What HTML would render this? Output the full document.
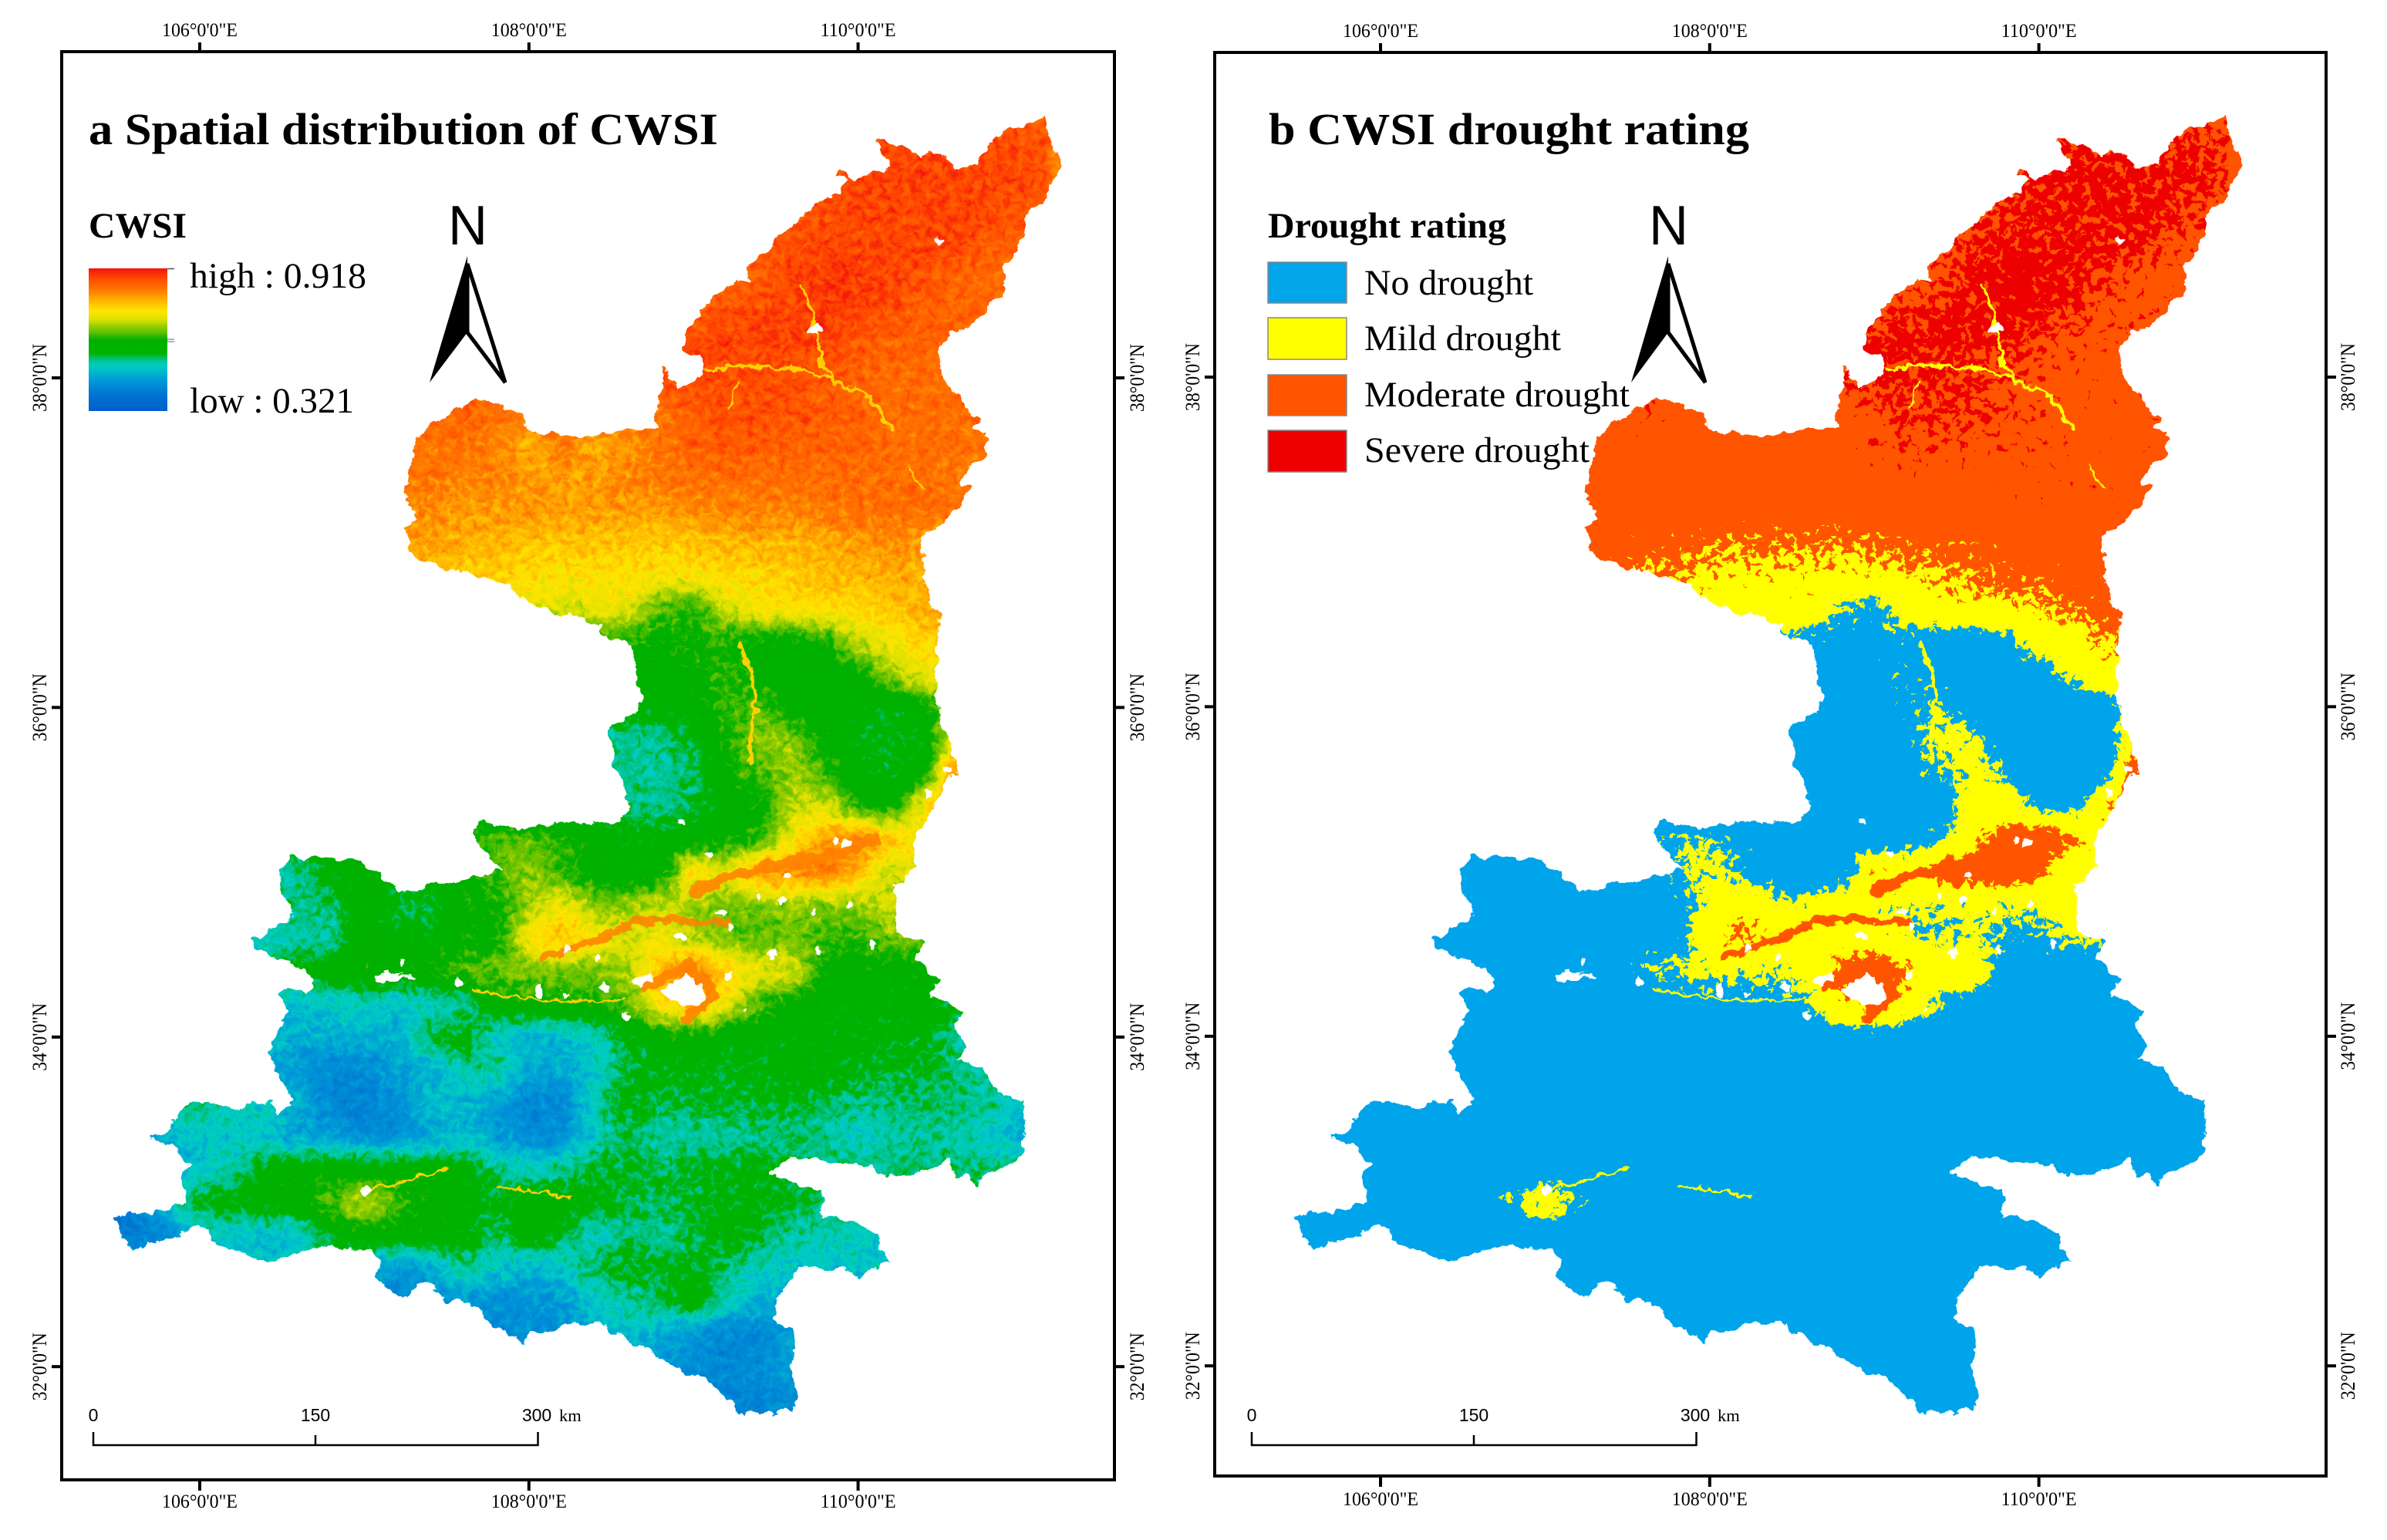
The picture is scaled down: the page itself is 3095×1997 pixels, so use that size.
<!DOCTYPE html>
<html lang="en">
<head>
<meta charset="utf-8">
<title>CWSI maps</title>
<style>
html,body{margin:0;padding:0;background:#fff;}
svg{display:block;}
text{font-family:"Liberation Serif",serif;fill:#000;}
.sans{font-family:"Liberation Sans",sans-serif;}
.tick{font-size:25px;}
.ticklat{font-size:26px;}
.ttl{font-size:58px;font-weight:bold;}
.lgt{font-size:47px;font-weight:bold;}
.lgl{font-size:47px;}
.feat{fill:none;stroke-linejoin:round;stroke-linecap:round;}
</style>
</head>
<body>
<svg id="figure" xmlns="http://www.w3.org/2000/svg" width="3095" height="1997" viewBox="0 0 3095 1997">
<defs>
<polygon id="shaanxi-outline" points="1355,153 1361,182 1375,213 1355,259 1327,279 1327,308 1301,348 1301,383 1281,397 1252,426 1235,428 1218,451 1220,492 1243,515 1258,538 1272,543 1263,555 1281,566 1275,589 1252,612 1246,627 1261,632 1240,658 1212,687 1192,701 1200,721 1195,738 1200,753 1206,764 1203,776 1218,796 1215,848 1212,893 1220,934 1232,962 1240,997 1224,1018 1214,1045 1189,1083 1184,1125 1163,1148 1161,1175 1161,1208 1197,1225 1189,1243 1217,1271 1204,1292 1248,1310 1237,1335 1255,1358 1240,1371 1278,1391 1288,1412 1327,1432 1330,1460 1327,1488 1322,1503 1283,1524 1263,1537 1250,1524 1237,1524 1230,1503 1197,1519 1161,1524 1130,1514 1094,1509 1033,1501 1013,1509 995,1524 1028,1534 1066,1542 1064,1580 1082,1577 1138,1600 1145,1621 1156,1639 1130,1644 1112,1657 1094,1644 1033,1646 1028,1659 1008,1687 1005,1713 1026,1725 1031,1748 1026,1774 1033,1815 1026,1830 957,1834 952,1817 939,1810 911,1789 875,1774 844,1753 793,1728 788,1718 737,1715 722,1723 686,1728 681,1741 651,1725 638,1718 612,1687 579,1690 564,1667 554,1659 528,1685 498,1667 487,1654 490,1634 482,1621 426,1616 390,1621 344,1639 314,1623 273,1611 273,1595 253,1590 217,1608 171,1621 158,1605 148,1580 161,1577 217,1570 240,1557 237,1519 250,1514 222,1488 197,1475 222,1468 222,1452 248,1427 283,1432 296,1440 350,1427 360,1447 380,1432 360,1396 357,1381 347,1366 360,1340 375,1310 362,1289 375,1282 400,1289 408,1269 375,1248 329,1230 327,1218 355,1202 380,1185 360,1146 362,1126 375,1113 411,1111 467,1116 492,1131 518,1157 579,1144 602,1139 651,1131 630,1105 610,1079 625,1066 673,1075 724,1066 765,1068 806,1066 816,1049 811,1014 796,995 791,945 811,928 827,926 832,895 821,865 821,838 801,827 776,822 781,813 770,807 741,796 718,796 672,776 661,759 609,744 586,738 534,721 526,681 543,675 529,652 526,629 534,601 537,575 552,558 575,540 609,526 618,515 672,535 689,561 730,563 753,569 798,558 850,558 853,509 862,492 856,480 867,483 882,506 908,486 910,469 885,451 890,434 913,397 942,371 971,362 968,345 1005,314 1040,282 1065,259 1086,251 1100,233 1083,225 1091,219 1106,232 1149,219 1157,213 1137,187 1140,181 1166,187 1197,205 1203,196 1226,202 1240,219 1263,216 1289,179 1321,164"/>
<clipPath id="map-clip"><use href="#shaanxi-outline"/></clipPath>
<filter id="edge-rough" filterUnits="userSpaceOnUse" x="100" y="110" width="1320" height="1790" color-interpolation-filters="sRGB">
  <feTurbulence type="fractalNoise" baseFrequency="0.06" numOctaves="4" seed="5" result="n"/>
  <feColorMatrix in="n" type="matrix" values="1 0 0 0 0  0 1 0 0 0  0 0 1 0 0  0 0 0 0 1" result="opaque"/>
  <feDisplacementMap in="SourceGraphic" in2="opaque" scale="16" xChannelSelector="R" yChannelSelector="G"/>
</filter>
<g id="thin-rivers" class="feat">
<path stroke-width="4" d="M913,480 L959,477 L999,474 L1051,483 L1080,497 L1117,506 L1137,526 L1157,561"/>
<path stroke-width="4" d="M1037,371 L1051,400 L1063,440 L1063,463 L1077,492"/>
<path stroke-width="5" d="M959,836 L976,876 L979,922 L974,951 L971,991"/>
<path stroke-width="3" d="M477,1544 L518,1534 L579,1516"/>
<path stroke-width="3" d="M959,497 L942,532"/>
<path stroke-width="3" d="M1177,606 L1197,635"/>
<path stroke-width="3" d="M610,1284 L732,1299 L809,1297"/>
<path stroke-width="3" d="M645,1539 L700,1546 L742,1554"/>
</g>
<g id="orange-bands" class="feat">
<path stroke-width="15" d="M898,1156 L939,1140 L985,1125 L1036,1117 L1077,1110 L1138,1087"/>
<path stroke-width="9" d="M704,1240 L781,1217 L816,1198 L857,1194 L944,1196"/>
<path stroke-width="14" d="M836,1282 L893,1250 L925,1290 L890,1322"/>
</g>
<g id="white-holes" fill="#fff">
<polygon points="857,1284 880,1270 893,1264 910,1280 912,1295 892,1306 870,1300"/>
<polygon points="822,1272 842,1262 846,1272 828,1282"/>
<circle cx="1056" cy="428" r="7"/>
<circle cx="1216" cy="312" r="5"/>
<circle cx="475" cy="1542" r="6"/>
<rect x="486" y="1262" width="30" height="8"/>
<rect x="512" y="1266" width="30" height="4"/>
<circle cx="1020" cy="1138" r="5"/>
<circle cx="1002" cy="1236" r="7"/>
<circle cx="1099" cy="1173" r="5"/>
<circle cx="1015" cy="1167" r="5"/>
<circle cx="985" cy="1163" r="4"/>
<circle cx="1056" cy="1186" r="4"/>
<circle cx="1082" cy="1091" r="5"/>
<circle cx="1097" cy="1092" r="5"/>
<circle cx="946" cy="1202" r="5"/>
<circle cx="883" cy="1213" r="5"/>
<circle cx="934" cy="1182" r="4"/>
<circle cx="1061" cy="1234" r="4"/>
<circle cx="1130" cy="1226" r="5"/>
<circle cx="735" cy="1230" r="5"/>
<circle cx="775" cy="1242" r="4"/>
<circle cx="944" cy="1263" r="5"/>
<circle cx="783" cy="1280" r="5"/>
<circle cx="699" cy="1286" r="6"/>
<circle cx="732" cy="1288" r="4"/>
<circle cx="597" cy="1274" r="5"/>
<circle cx="530" cy="1267" r="4"/>
<circle cx="523" cy="1249" r="4"/>
<circle cx="921" cy="1110" r="5"/>
<circle cx="883" cy="1065" r="4"/>
<circle cx="1204" cy="1029" r="5"/>
<circle cx="1230" cy="999" r="4"/>
<circle cx="814" cy="1320" r="4"/>
<circle cx="964" cy="1311" r="3"/>
</g>
</defs>

<!-- Panel a -->
<g id="panel-a">
  <rect x="80" y="67" width="1365" height="1852" fill="none" stroke="#000" stroke-width="4"/>
  <g id="axes-a"></g>
  <g filter="url(#edge-rough)">
    <g clip-path="url(#map-clip)">
      <g id="cells-a"></g>
      <use href="#thin-rivers" stroke="#ffd000"/>
      <use href="#orange-bands" stroke="#ff8000" opacity="0.85"/>
      <use href="#white-holes"/>
    </g>
  </g>
  <text class="ttl" x="115" y="187" textLength="816" lengthAdjust="spacingAndGlyphs">a Spatial distribution of CWSI</text>
  <text class="lgt" x="115" y="308" textLength="127" lengthAdjust="spacingAndGlyphs">CWSI</text>
  <rect id="legend-ramp" x="115" y="348" width="102" height="185" fill="url(#ramp-gradient)"/>
  <line x1="217" y1="348.500" x2="226" y2="348.500" stroke="#555" stroke-width="1.500"/>
  <line x1="217" y1="440" x2="226" y2="440" stroke="#999" stroke-width="1.500"/>
  <line x1="217" y1="443" x2="226" y2="443" stroke="#999" stroke-width="1.500"/>
  <text class="lgl" x="246" y="373" textLength="229" lengthAdjust="spacingAndGlyphs">high : 0.918</text>
  <text class="lgl" x="246" y="535" textLength="213" lengthAdjust="spacingAndGlyphs">low : 0.321</text>
  <g>
    <text class="sans" x="581" y="317" font-size="72" textLength="51" lengthAdjust="spacingAndGlyphs">N</text>
    <polygon points="606,332 557,496 606,431" fill="#000"/>
    <polygon points="606,342 606,431 655,496" fill="#fff" stroke="#000" stroke-width="5" stroke-linejoin="miter"/>
  </g>
  <g>
    <path d="M121,1857 V1874 H697.500 V1857 M409,1874 V1861" fill="none" stroke="#000" stroke-width="2.500"/>
    <text class="sans" x="121" y="1843" font-size="23" text-anchor="middle">0</text>
    <text class="sans" x="409" y="1843" font-size="23" text-anchor="middle">150</text>
    <text class="sans" x="696" y="1843" font-size="23" text-anchor="middle">300</text>
    <text x="725" y="1843" font-size="22.500">km</text>
  </g>
</g>

<!-- Panel b -->
<g id="panel-b">
  <rect x="1575" y="68" width="1441" height="1846" fill="none" stroke="#000" stroke-width="4"/>
  <g id="axes-b"></g>
  <g transform="translate(1531,-1)">
    <g filter="url(#edge-rough)">
      <g clip-path="url(#map-clip)">
        <g id="cells-b"></g>
        <use href="#thin-rivers" stroke="#ffff00"/>
        <use href="#orange-bands" stroke="#ff5500"/>
        <use href="#white-holes"/>
      </g>
    </g>
  </g>
  <text class="ttl" x="1645" y="187" textLength="623" lengthAdjust="spacingAndGlyphs">b CWSI drought rating</text>
  <text class="lgt" x="1644" y="308" textLength="309" lengthAdjust="spacingAndGlyphs">Drought rating</text>
  <g>
    <rect x="1644" y="340" width="102" height="53" fill="#00a5ea" stroke="#888" stroke-width="1.500"/>
    <text class="lgl" x="1769" y="382" textLength="219" lengthAdjust="spacingAndGlyphs">No drought</text>
  </g>
  <g>
    <rect x="1644" y="412" width="102" height="54" fill="#ffff00" stroke="#888" stroke-width="1.500"/>
    <text class="lgl" x="1769" y="454" textLength="255" lengthAdjust="spacingAndGlyphs">Mild drought</text>
  </g>
  <g>
    <rect x="1644" y="486" width="102" height="53" fill="#ff5500" stroke="#888" stroke-width="1.500"/>
    <text class="lgl" x="1769" y="527" textLength="344" lengthAdjust="spacingAndGlyphs">Moderate drought</text>
  </g>
  <g>
    <rect x="1644" y="558" width="102" height="54" fill="#ee0000" stroke="#888" stroke-width="1.500"/>
    <text class="lgl" x="1769" y="599" textLength="292" lengthAdjust="spacingAndGlyphs">Severe drought</text>
  </g>
  <g>
    <text class="sans" x="2138" y="317" font-size="72" textLength="51" lengthAdjust="spacingAndGlyphs">N</text>
    <polygon points="2163,332 2115,496 2163,431" fill="#000"/>
    <polygon points="2163,342 2163,431 2211,496" fill="#fff" stroke="#000" stroke-width="5" stroke-linejoin="miter"/>
  </g>
  <g>
    <path d="M1623,1857 V1874 H2199.500 V1857 M1911,1874 V1861" fill="none" stroke="#000" stroke-width="2.500"/>
    <text class="sans" x="1623" y="1843" font-size="23" text-anchor="middle">0</text>
    <text class="sans" x="1911" y="1843" font-size="23" text-anchor="middle">150</text>
    <text class="sans" x="2198" y="1843" font-size="23" text-anchor="middle">300</text>
    <text x="2227" y="1843" font-size="22.500">km</text>
  </g>
</g>
</svg>

<script>
// ---- axis data ----
var lonTicks = [106, 108, 110];
var lonTickLabels = ['106°0\'0"E', '108°0\'0"E', '110°0\'0"E'];
var latTicks = [38, 36, 34, 32];
var latTickLabels = ['38°0\'0"N', '36°0\'0"N', '34°0\'0"N', '32°0\'0"N'];

// ---- raster grid: CWSI x100 at lon/lat nodes ----
var gridLonStart = 105.4;
var gridLatStart = 39.6;
var gridStep = 0.2;
var cwsiRows = [
[86,86,86,86,86,86,86,86,86,86,86,86,86,86,86,86,86,86,86,86,86,86,86,86,86,86,86,86,86,86],
[87,87,87,87,87,87,87,87,87,87,87,87,87,87,87,87,87,87,87,87,87,87,87,88,88,88,88,88,87,86],
[86,86,86,86,86,86,86,86,86,86,86,86,86,86,86,86,86,86,86,86,86,86,87,88,88,88,88,88,88,86],
[85,85,85,85,85,85,85,85,85,85,85,85,85,85,85,85,85,85,85,85,85,86,87,88,88,88,88,88,86,85],
[85,85,85,85,85,85,85,85,85,85,85,85,85,85,85,85,85,85,85,85,86,87,88,88,88,88,88,86,85,85],
[84,84,84,84,84,84,84,84,84,84,84,84,84,84,84,84,84,84,84,84,86,88,89,89,88,87,85,84,84,84],
[86,86,86,86,86,86,86,86,86,86,86,86,86,86,86,86,86,86,86,87,88,88,89,88,87,85,85,85,85,85],
[88,88,88,88,88,88,88,88,88,88,88,88,88,88,88,88,88,88,88,88,88,88,88,86,85,85,85,85,85,85],
[86,86,86,86,86,86,86,86,86,86,86,86,86,86,86,86,86,87,88,87,87,87,86,85,84,84,84,84,84,84],
[85,85,85,85,85,85,85,85,85,85,85,85,84,84,84,84,84,84,86,87,87,87,86,85,84,84,84,84,84,84],
[83,83,83,83,83,83,83,83,83,83,83,84,82,78,83,79,80,83,85,86,86,85,85,85,84,84,84,83,83,83],
[83,83,83,83,83,83,83,83,83,83,83,82,82,80,80,80,82,83,84,84,84,84,84,84,84,84,83,83,83,83],
[81,81,81,81,81,81,81,81,81,81,81,80,80,81,80,80,80,80,81,82,82,82,83,84,84,84,84,84,84,84],
[80,80,80,80,80,80,80,80,80,80,80,79,78,77,77,77,77,76,77,78,79,78,79,80,81,80,80,80,80,80],
[76,76,76,76,76,76,76,76,76,76,76,76,76,75,74,74,74,74,74,75,75,76,78,78,79,79,79,79,79,79],
[72,72,72,72,72,72,72,72,72,72,72,72,72,72,70,72,72,64,62,70,74,74,75,75,77,79,79,79,79,79],
[62,62,62,62,62,62,62,62,62,62,62,62,62,62,62,62,62,61,62,62,60,60,62,70,72,76,76,76,76,76],
[59,59,59,59,59,59,59,59,59,59,59,59,59,59,59,59,59,59,60,64,60,59,58,60,68,72,74,74,74,74],
[58,58,58,58,58,58,58,58,58,58,58,58,58,58,58,58,58,58,59,63,65,60,59,58,57,59,72,74,74,74],
[53,53,53,53,53,53,53,53,53,53,53,53,53,53,53,53,53,53,56,62,67,67,60,57,57,57,74,74,74,74],
[53,53,53,53,53,53,53,53,53,53,53,53,53,53,53,53,53,53,54,61,64,68,64,58,56,60,84,84,84,84],
[54,54,54,54,54,54,54,54,54,54,54,54,54,54,54,54,54,53,55,60,60,69,71,62,60,74,85,85,85,85],
[60,60,60,60,60,60,60,60,60,60,60,62,65,65,63,60,58,58,59,60,62,73,80,83,78,72,72,72,72,72],
[52,52,52,52,52,52,52,58,60,60,60,60,64,67,63,60,58,59,77,72,82,82,84,78,68,74,74,74,74,74],
[54,54,54,54,54,54,54,54,60,55,55,61,61,68,73,66,68,70,68,65,66,67,66,67,70,70,70,70,70,70],
[50,50,50,50,50,50,52,52,60,59,58,60,60,74,78,75,70,72,68,66,64,66,64,63,66,66,66,66,66,66],
[58,58,58,58,58,58,58,60,62,60,62,65,66,66,66,66,68,78,84,76,72,72,60,60,59,60,60,60,60,60],
[49,49,49,49,49,49,49,50,51,50,50,52,60,61,62,62,65,74,80,72,64,60,58,58,58,59,57,57,57,57],
[50,50,50,50,50,50,47,48,48,47,56,58,50,48,48,51,56,60,60,58,58,58,58,58,57,58,52,52,52,52],
[46,46,46,46,46,46,45,42,43,46,47,52,54,47,47,50,56,57,57,56,57,58,58,57,56,56,54,52,52,52],
[54,54,54,55,52,51,48,42,41,44,50,48,46,42,42,52,58,55,56,56,56,56,55,53,54,54,54,53,50,50],
[44,44,48,50,50,50,45,46,42,43,46,49,45,43,43,51,55,52,52,52,53,54,53,50,52,53,52,50,47,47],
[46,46,46,50,52,58,60,60,60,60,60,59,54,51,53,56,56,55,56,57,58,55,54,54,54,54,54,54,54,54],
[40,42,52,57,58,60,60,65,70,64,60,59,56,60,59,58,55,55,56,57,57,56,54,54,54,54,54,54,54,54],
[40,40,41,50,50,48,50,58,60,60,60,58,54,60,56,50,54,52,55,58,56,52,52,51,50,50,50,50,50,50],
[50,50,50,50,50,50,50,50,50,44,47,54,50,48,50,56,57,56,57,54,51,50,50,50,50,50,50,50,50,50],
[42,42,42,42,42,42,42,42,42,42,43,45,44,44,45,50,53,55,60,52,48,48,48,48,48,48,48,48,48,48],
[43,43,43,43,43,43,43,43,43,43,43,43,43,44,44,48,50,47,44,42,42,46,46,46,46,46,46,46,46,46],
[45,45,45,45,45,45,45,45,45,45,45,45,45,45,45,45,45,45,44,42,44,46,46,46,46,46,46,46,46,46],
[42,42,42,42,42,42,42,42,42,42,42,42,42,42,42,42,42,42,42,42,42,43,43,43,43,43,43,43,43,43],
[42,42,42,42,42,42,42,42,42,42,42,42,42,42,42,42,42,42,42,42,42,42,42,42,42,42,42,42,42,42]
];

// ---- colour scale: CWSI x100 -> colour ----
var rampValues = [92, 88, 86, 82, 80, 77, 74, 70, 68, 65, 62, 56, 54, 51, 45, 38, 32];
var rampColors = ['#f01010','#ff4400','#ff5a00','#ff8000','#ff9f00','#ffc400','#ffe600','#d8e000','#a0d000','#60c000','#00b000','#00b400','#00c080','#00cfc4','#0098d8','#0070d0','#0060cc'];
var legendHigh = 91.8;
var legendLow = 32.1;

// ---- rating classes ----
var ratingBreaks = [65, 76, 87];
var ratingNames = ['no-drought', 'mild-drought', 'moderate-drought', 'severe-drought'];
var ratingColors = ['#00a5ea', '#ffff00', '#ff5500', '#ee0000'];

var SVGNS = 'http://www.w3.org/2000/svg';
var fig = document.getElementById('figure');
var defs = fig.querySelector('defs');

// axis functions (panel a geography; panel b is the same map shifted)
var panels = {
  a: {x106: 259, y38: 490, left: 80, right: 1445, top: 67, bottom: 1919, leftBase: 60, rightBase: 1483, bottomLabel: 1955},
  b: {x106: 1790, y38: 489, left: 1575, right: 3016, top: 68, bottom: 1914, leftBase: 1555, rightBase: 3053, bottomLabel: 1952}
};
var SCALE_X = 213.4, SCALE_Y = 213.7;
function lonX(p, lon) { return p.x106 + (lon - 106) * SCALE_X; }
function latY(p, lat) { return p.y38 + (38 - lat) * SCALE_Y; }

function hex(c) { return [parseInt(c.substr(1,2),16), parseInt(c.substr(3,2),16), parseInt(c.substr(5,2),16)]; }
function rampAt(v) {
  if (v >= rampValues[0]) return hex(rampColors[0]);
  for (var i = 1; i < rampValues.length; i++) {
    if (v >= rampValues[i]) {
      var t = (v - rampValues[i]) / (rampValues[i-1] - rampValues[i]);
      var a = hex(rampColors[i]), b = hex(rampColors[i-1]);
      return [a[0]+(b[0]-a[0])*t, a[1]+(b[1]-a[1])*t, a[2]+(b[2]-a[2])*t];
    }
  }
  return hex(rampColors[rampColors.length-1]);
}
function ratingIndex(v) {
  var k = 0;
  for (var i = 0; i < ratingBreaks.length; i++) { if (v >= ratingBreaks[i]) k = i + 1; }
  return k;
}

function svgEl(tag, attrs, parent) {
  var el = document.createElementNS(SVGNS, tag);
  for (var key in attrs) { el.setAttribute(key, attrs[key]); }
  if (parent) parent.appendChild(el);
  return el;
}

// Smooth the grid, add a fine terrain texture, then apply the colour table.
function makeFilter(id, type, channelFn, n) {
  var f = svgEl('filter', {id: id, filterUnits: 'userSpaceOnUse', x: 100, y: 110, width: 1320, height: 1790, 'color-interpolation-filters': 'sRGB'}, defs);
  svgEl('feGaussianBlur', {'in': 'SourceGraphic', stdDeviation: '15', result: 'smooth'}, f);
  svgEl('feTurbulence', {type: 'fractalNoise', baseFrequency: '0.1', numOctaves: '3', seed: '11', result: 'noise'}, f);
  svgEl('feColorMatrix', {'in': 'noise', type: 'matrix', values: '1 0 0 0 0  1 0 0 0 0  1 0 0 0 0  0 0 0 0 1', result: 'grain'}, f);
  svgEl('feComposite', {'in': 'smooth', in2: 'grain', operator: 'arithmetic', k1: '0', k2: '1', k3: '0.1', k4: '-0.05', result: 'textured'}, f);
  var ct = svgEl('feComponentTransfer', {'in': 'textured'}, f);
  var names = ['feFuncR', 'feFuncG', 'feFuncB'];
  for (var c = 0; c < 3; c++) {
    var vals = [];
    for (var k = 0; k < n; k++) { vals.push((channelFn(k)[c] / 255).toFixed(3)); }
    svgEl(names[c], {type: type, tableValues: vals.join(' ')}, ct);
  }
  svgEl('feFuncA', {type: 'linear', slope: '30'}, ct);
}
makeFilter('ramp-filter', 'table', function (k) { return rampAt(k); }, 101);
makeFilter('rating-filter', 'discrete', function (k) { return hex(ratingColors[ratingIndex(k)]); }, 100);

// legend gradient from the same colour scale
var grad = svgEl('linearGradient', {id: 'ramp-gradient', x1: 0, y1: 0, x2: 0, y2: 1}, defs);
for (var s = 0; s <= 40; s++) {
  var v = legendHigh - (legendHigh - legendLow) * s / 40;
  var col = rampAt(v);
  svgEl('stop', {offset: (s / 40).toFixed(3), 'stop-color': 'rgb(' + Math.round(col[0]) + ',' + Math.round(col[1]) + ',' + Math.round(col[2]) + ')'}, grad);
}

// raster cells from cwsiRows
function drawCells(groupId, filterId, cellName) {
  var g = document.getElementById(groupId);
  g.setAttribute('filter', 'url(#' + filterId + ')');
  var p = panels.a;
  var half = gridStep * SCALE_X / 2;
  var halfY = gridStep * SCALE_Y / 2;
  for (var j = 0; j < cwsiRows.length; j++) {
    for (var i = 0; i < cwsiRows[j].length; i++) {
      var val = cwsiRows[j][i];
      var gray = Math.round(val * 2.55);
      var r = document.createElementNS(SVGNS, 'rect');
      r.setAttribute('x', (lonX(p, gridLonStart + i * gridStep) - half).toFixed(1));
      r.setAttribute('y', (latY(p, gridLatStart - j * gridStep) - halfY).toFixed(1));
      r.setAttribute('width', (2 * half + 1).toFixed(1));
      r.setAttribute('height', (2 * halfY + 1).toFixed(1));
      r.setAttribute('fill', 'rgb(' + gray + ',' + gray + ',' + gray + ')');
      
      
      g.appendChild(r);
    }
  }
}
drawCells('cells-a', 'ramp-filter', 'cwsi-cell');
drawCells('cells-b', 'rating-filter', 'rating-cell');

// ticks and labels
function addLine(g, x1, y1, x2, y2, name) {
  var l = document.createElementNS(SVGNS, 'line');
  l.setAttribute('x1', x1); l.setAttribute('y1', y1);
  l.setAttribute('x2', x2); l.setAttribute('y2', y2);
  l.setAttribute('stroke', '#000');
  l.setAttribute('stroke-width', '4');
  
  
  g.appendChild(l);
}
function addLon(g, x, y, label) {
  var t = document.createElementNS(SVGNS, 'text');
  t.setAttribute('class', 'tick');
  t.setAttribute('x', x); t.setAttribute('y', y);
  t.setAttribute('text-anchor', 'middle');
  t.setAttribute('textLength', '98');
  t.setAttribute('lengthAdjust', 'spacingAndGlyphs');
  
  
  t.textContent = label;
  g.appendChild(t);
}
function addLat(g, x, y, label) {
  var t = document.createElementNS(SVGNS, 'text');
  t.setAttribute('class', 'ticklat');
  t.setAttribute('transform', 'translate(' + x + ',' + y + ') rotate(-90)');
  t.setAttribute('text-anchor', 'middle');
  t.setAttribute('textLength', '88');
  t.setAttribute('lengthAdjust', 'spacingAndGlyphs');
  
  
  t.textContent = label;
  g.appendChild(t);
}
function drawAxes(key) {
  var p = panels[key];
  var g = document.getElementById('axes-' + key);
  lonTicks.forEach(function (lon, i) {
    var x = lonX(p, lon);
    addLine(g, x, p.top - 12, x, p.top, 'longitude-tick-top');
    addLine(g, x, p.bottom, x, p.bottom + 14, 'longitude-tick-bottom');
    addLon(g, x, p.top - 20, lonTickLabels[i]);
    addLon(g, x, p.bottomLabel, lonTickLabels[i]);
  });
  latTicks.forEach(function (lat, i) {
    var y = latY(p, lat);
    addLine(g, p.left - 13, y, p.left, y, 'latitude-tick-left');
    addLine(g, p.right, y, p.right + 13, y, 'latitude-tick-right');
    addLat(g, p.leftBase, y, latTickLabels[i]);
    addLat(g, p.rightBase, y, latTickLabels[i]);
  });
}
drawAxes('a');
drawAxes('b');
</script>
</body>
</html>
